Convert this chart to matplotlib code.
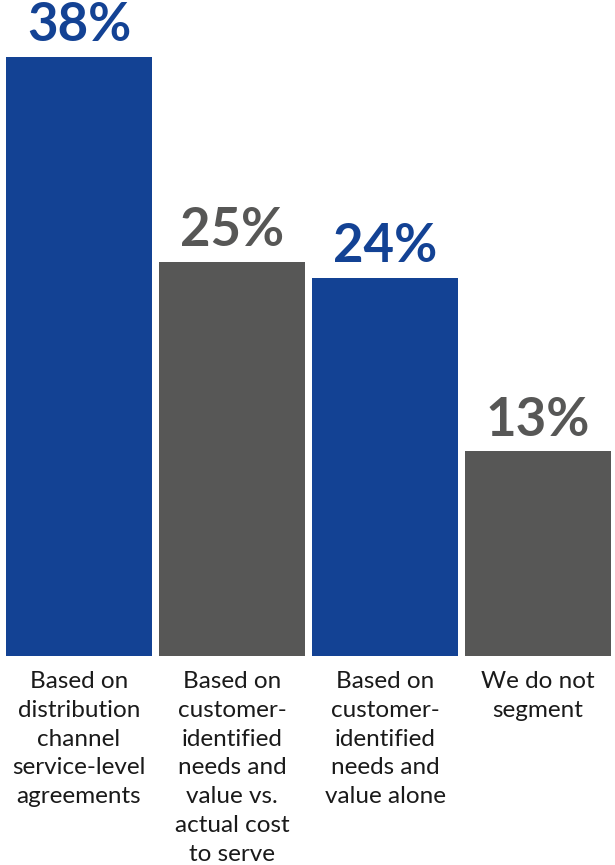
import matplotlib.pyplot as plt

categories = [
    "Based on\ndistribution\nchannel\nservice-level\nagreements",
    "Based on\ncustomer-\nidentified\nneeds and\nvalue vs.\nactual cost\nto serve",
    "Based on\ncustomer-\nidentified\nneeds and\nvalue alone",
    "We do not\nsegment",
]
values = [38, 25, 24, 13]
colors = ["#134294", "#575756", "#134294", "#575756"]

plt.rcParams['font.family'] = ['Lato', 'DejaVu Sans']

fig = plt.figure(figsize=(6.15, 8.65), dpi=100)
ax = fig.add_axes([0, 209 / 865, 1, 656 / 865])

x = range(len(values))
ax.bar(x, values, width=0.954, color=colors)
ax.set_xlim(-0.516, 3.503)
ax.set_ylim(0, 41.6)
ax.axis('off')

for i, (v, c) in enumerate(zip(values, colors)):
    ax.text(i, v + 0.4, f"{v}%", ha='center', va='bottom',
            fontsize=38, fontweight='bold', color=c)
    ax.text(i, -0.95, categories[i], ha='center', va='top',
            fontsize=17.5, color='#1a1a1a', linespacing=1.46)

fig.savefig("out.png", dpi=100)
